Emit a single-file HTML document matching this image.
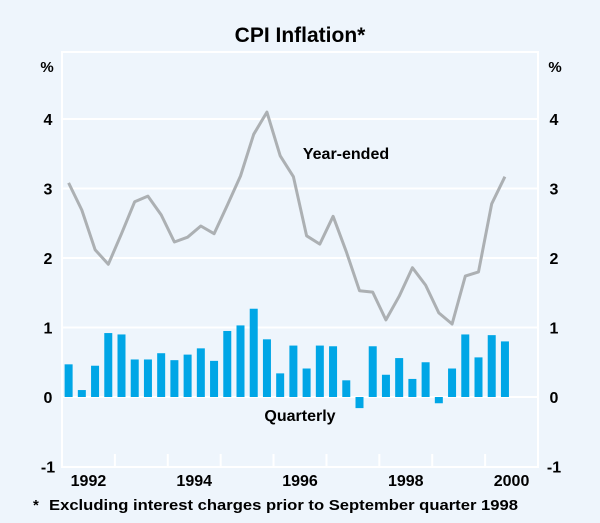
<!DOCTYPE html>
<html><head><meta charset="utf-8"><style>
body{margin:0;background:#eef5fc;}
svg{display:block;font-family:"Liberation Sans",Arial,sans-serif;}
</style></head><body>
<svg id="chart" width="600" height="523" viewBox="0 0 600 523">
<rect x="0" y="0" width="600" height="523" fill="#eef5fc"/>
<text x="300" y="42" text-anchor="middle" font-size="21" font-weight="bold" fill="#000">CPI Inflation*</text>
<text x="47" y="72" text-anchor="middle" font-size="15" font-weight="bold">%</text>
<text x="555" y="72" text-anchor="middle" font-size="15" font-weight="bold">%</text>
<g id="grid"></g>
<g id="bars"></g>
<g id="line"></g>
<g id="axes"></g>
<text x="346" y="159" text-anchor="middle" font-size="16" font-weight="bold">Year-ended</text>
<text x="300" y="421" text-anchor="middle" font-size="16" font-weight="bold">Quarterly</text>
<g>
<text x="33" y="510" font-size="15" font-weight="bold">*</text>
<text x="49" y="510" font-size="15" font-weight="bold" textLength="469" lengthAdjust="spacingAndGlyphs">Excluding interest charges prior to September quarter 1998</text>
</g>
</svg>
<script>
const yTicks = [-1, 0, 1, 2, 3, 4];
const yearLabels = ["1992", "1994", "1996", "1998", "2000"];
const quarterly = [0.47,0.10,0.45,0.92,0.90,0.54,0.54,0.63,0.53,0.61,0.70,0.52,0.95,1.03,1.27,0.83,0.34,0.74,0.41,0.74,0.73,0.24,-0.16,0.73,0.32,0.56,0.26,0.50,-0.09,0.41,0.90,0.57,0.89,0.80];
const yearEnded = [3.08,2.69,2.12,1.91,2.35,2.81,2.89,2.62,2.23,2.30,2.46,2.35,2.76,3.18,3.78,4.10,3.47,3.17,2.32,2.20,2.60,2.09,1.53,1.51,1.11,1.45,1.86,1.61,1.21,1.05,1.74,1.80,2.78,3.17];

const NS = "http://www.w3.org/2000/svg";
const L = 62, R = 538, T = 52, B = 467;
const startYear = 1992, nYears = 9;
const yearW = (R - L) / nYears, qW = yearW / 4;
function y(v){ return 397 - v * 69.5; }
function xq(i){ return L + qW * (i + 0.5); }
function xYear(yr){ return L + (yr - startYear) * yearW; }
function mk(tag, attrs, parent){ const e = document.createElementNS(NS, tag); for (const k in attrs) e.setAttribute(k, attrs[k]); parent.appendChild(e); return e; }

const grid = document.getElementById('grid');
const border = mk('rect', {x:L, y:T, width:R-L, height:B-T, fill:'none', stroke:'#ffffff', 'stroke-width':2}, grid);


yTicks.forEach(v => {
  if (v !== -1) {
    const g = mk('line', {x1:L, x2:R, y1:y(v), y2:y(v), stroke:'#ffffff', 'stroke-width':2}, grid);
    
    
  }
  const tl = mk('text', {x:48, y:y(v)+6, 'text-anchor':'middle', 'font-size':16, 'font-weight':'bold'}, grid);
  tl.textContent = v;
  
  
  const tr = mk('text', {x:554, y:y(v)+6, 'text-anchor':'middle', 'font-size':16, 'font-weight':'bold'}, grid);
  tr.textContent = v;
  
  
});

const axes = document.getElementById('axes');
for (let k = 1; k < nYears; k++) {
  const t = mk('line', {x1:xYear(startYear+k), x2:xYear(startYear+k), y1:B, y2:B-13, stroke:'#ffffff', 'stroke-width':2}, axes);
  
  
}
yearLabels.forEach(s => {
  const yr = +s;
  const t = mk('text', {x:xYear(yr)+yearW/2, y:486, 'text-anchor':'middle', 'font-size':16, 'font-weight':'bold'}, axes);
  t.textContent = s;
  
  
});

const bars = document.getElementById('bars');
quarterly.forEach((v, i) => {
  const top = Math.min(y(v), y(0)), h = Math.abs(y(v) - y(0));
  const b = mk('rect', {x:xq(i)-4, y:top, width:8, height:h, fill:'#00a6e6'}, bars);
  
  
});

const line = document.getElementById('line');
const pts = yearEnded.map((v, i) => xq(i).toFixed(1) + ',' + y(v).toFixed(1)).join(' ');
const pl = mk('polyline', {points:pts, fill:'none', stroke:'#acb0b3', 'stroke-width':3, 'stroke-linejoin':'round'}, line);


</script>
</body></html>
